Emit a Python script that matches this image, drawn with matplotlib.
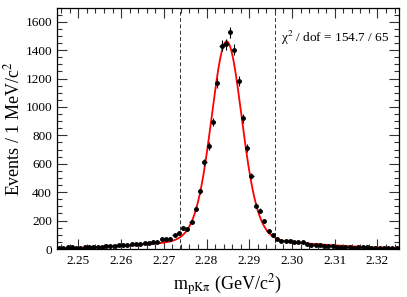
import numpy as np
import matplotlib
matplotlib.use("Agg")
import matplotlib.pyplot as plt
from matplotlib.ticker import MultipleLocator

plt.rcParams['font.family'] = ['Liberation Serif', 'DejaVu Serif']
plt.rcParams['mathtext.fontset'] = 'stix'

# ---- data ----
bin_low = 2.245          # GeV/c^2
bin_width = 0.001        # GeV/c^2
counts = [8, 4, 12, 12, 6, 8, 12, 13, 14, 16,
          17, 20, 21, 23, 25, 28, 30, 34, 36, 35,
          40, 45, 51, 47, 68, 68, 73, 96, 110, 148,
          138, 190, 283, 405, 612, 724, 893, 1169, 1432, 1441,
          1526, 1404, 1183, 919, 710, 515, 304, 269, 199, 127,
          98, 70, 58, 54, 54, 52, 49, 47, 33, 28,
          28, 30, 19, 23, 19, 16, 12, 12, 12, 9,
          16, 12, 12, 5, 5, 9, 7, 7, 7, 5]

# fit model parameters (double Gaussian signal + broad background)
sig_mean = 2.2847
sig_amp = [890, 510]
sig_sigma = [0.0032, 0.0046]
bkg_mean = 2.2860
bkg_amp = 62
bkg_sigma = 0.018

signal_window = [2.2737, 2.2960]
chi2_text = '\u03c7$^{2}$ / dof = 154.7 / 65'

# ---- plot ----
counts = np.array(counts, dtype=float)
centers = bin_low + bin_width * (np.arange(len(counts)) + 0.5)
errs = np.sqrt(counts)

fig = plt.figure(figsize=(4.07, 2.97), dpi=100)
ax = fig.add_axes([0.140, 0.1616, 0.840, 0.8131])

xf = np.linspace(bin_low, bin_low + bin_width * len(counts), 800)
yf = (sig_amp[0] * np.exp(-0.5 * ((xf - sig_mean) / sig_sigma[0]) ** 2)
      + sig_amp[1] * np.exp(-0.5 * ((xf - sig_mean) / sig_sigma[1]) ** 2)
      + bkg_amp * np.exp(-0.5 * ((xf - bkg_mean) / bkg_sigma) ** 2))
ax.plot(xf, yf, color='red', lw=1.3, zorder=2)

ax.errorbar(centers, counts, yerr=errs, xerr=bin_width / 2, fmt='o',
            color='black', ms=2.5, elinewidth=0.8, capsize=0, zorder=3)

for xv in signal_window:
    ax.axvline(xv, color='#333333', ls=(0, (4, 2.5)), lw=0.7, zorder=1)

ax.text(0.972, 0.875, chi2_text, transform=ax.transAxes, ha='right', va='center',
        fontsize=9.5)

ax.set_xlim(2.245, 2.325)
ax.set_ylim(0, 1700)
ax.xaxis.set_major_locator(MultipleLocator(0.01))
ax.xaxis.set_minor_locator(MultipleLocator(0.002))
ax.yaxis.set_major_locator(MultipleLocator(200))
ax.yaxis.set_minor_locator(MultipleLocator(50))
ax.xaxis.set_major_formatter(plt.FuncFormatter(lambda v, p: f'{v:.2f}'))

ax.tick_params(which='both', direction='in', top=True, right=True,
               labelsize=9.5, width=0.8, color='#333333')
ax.tick_params(which='major', length=7)
ax.tick_params(which='minor', length=3.5)
ax.tick_params(axis='x', which='major', pad=4)
for s in ax.spines.values():
    s.set_linewidth(0.9)

ax.set_xlabel('m$_{\\mathrm{pK\u03c0}}$ (GeV/c$^2$)', fontsize=13, labelpad=4)
ax.set_ylabel(r'Events / 1 MeV/c$^2$', fontsize=13)
ax.yaxis.set_label_coords(-0.099, 0.5)

fig.savefig('out.png', dpi=100)
